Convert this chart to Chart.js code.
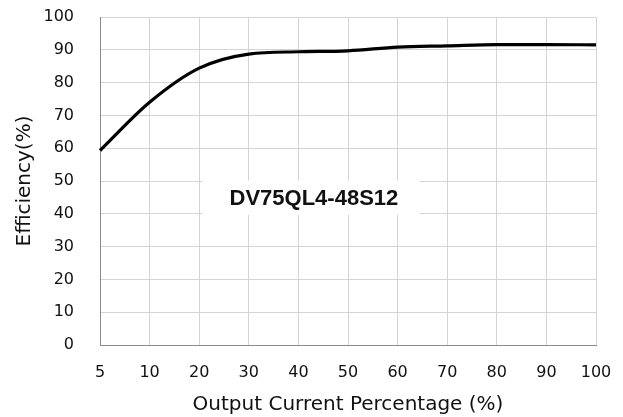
<!DOCTYPE html>
<html>
<head>
<meta charset="utf-8">
<script src="https://cdn.jsdelivr.net/npm/chart.js@4/dist/chart.umd.min.js"></script>
<style>
  html, body { margin: 0; padding: 0; background: #ffffff; }
  canvas { display: block; }
</style>
</head>
<body>
<canvas id="c" width="623" height="417"></canvas>
<script>
// Data
const categories = ['5', '10', '20', '30', '40', '50', '60', '70', '80', '90', '100'];
const efficiency = [59.3, 74.0, 84.4, 88.7, 89.4, 89.7, 90.8, 91.2, 91.6, 91.6, 91.5];
const yTicks = [0, 10, 20, 30, 40, 50, 60, 70, 80, 90, 100];
const modelLabel = 'DV75QL4-48S12';
const xTitle = 'Output Current Percentage (%)';
const yTitle = 'Efficiency(%)';

const labelBox = {
  id: 'labelBox',
  beforeDatasetsDraw(chart) {
    const { ctx, scales: { x, y } } = chart;
    const left = x.getPixelForValue(2) + 3;
    const right = x.getPixelForValue(6) + 22;
    const top = y.getPixelForValue(50) - 0.5;
    const bottom = y.getPixelForValue(40) + 1;
    ctx.save();
    ctx.fillStyle = '#ffffff';
    ctx.fillRect(left, top, right - left, bottom - top);
    ctx.fillStyle = '#111111';
    ctx.font = 'bold 22px "Liberation Sans", Arial, sans-serif';
    ctx.textAlign = 'center';
    ctx.textBaseline = 'middle';
    ctx.fillText(modelLabel, (left + right) / 2 + 3, (top + bottom) / 2 + 1);
    ctx.restore();
  }
};

new Chart(document.getElementById('c'), {
  type: 'line',
  data: {
    labels: categories,
    datasets: [{
      label: 'Efficiency',
      data: efficiency,
      borderColor: '#000000',
      borderWidth: 3.2,
      pointRadius: 0,
      cubicInterpolationMode: 'monotone',
      fill: false
    }]
  },
  options: {
    responsive: false,
    animation: false,
    layout: { padding: { left: 0, right: 27, top: 17, bottom: 0 } },
    plugins: { legend: { display: false }, tooltip: { enabled: false } },
    scales: {
      x: {
        type: 'category',
        offset: false,
        afterFit(scale) {
          scale.height = 72;
          scale.paddingLeft = 0;
          scale.paddingRight = 0;
        },
        grid: { color: '#d4d4d4', lineWidth: 1, drawTicks: false },
        border: { color: '#8a8a8a', width: 1 },
        ticks: {
          color: '#111111',
          padding: 18,
          maxRotation: 0,
          autoSkip: false,
          font: { family: '"DejaVu Sans", sans-serif', size: 16 }
        },
        title: {
          display: true,
          text: xTitle,
          color: '#111111',
          padding: { top: 0, bottom: 0 },
          font: { family: '"DejaVu Sans", sans-serif', size: 20 }
        }
      },
      y: {
        min: 0,
        max: 100,
        afterFit(scale) {
          scale.width = 100;
          scale.paddingTop = 0;
          scale.paddingBottom = 0;
        },
        afterBuildTicks(scale) { scale.ticks = yTicks.map(v => ({ value: v })); },
        grid: { color: '#d4d4d4', lineWidth: 1, drawTicks: false },
        border: { color: '#8a8a8a', width: 1 },
        ticks: {
          color: '#111111',
          padding: 26,
          font: { family: '"DejaVu Sans", sans-serif', size: 16 }
        },
        title: {
          display: true,
          text: yTitle,
          color: '#111111',
          padding: { top: 13, bottom: 0 },
          font: { family: '"DejaVu Sans", sans-serif', size: 20 }
        }
      }
    }
  },
  plugins: [labelBox]
});
</script>
</body>
</html>
